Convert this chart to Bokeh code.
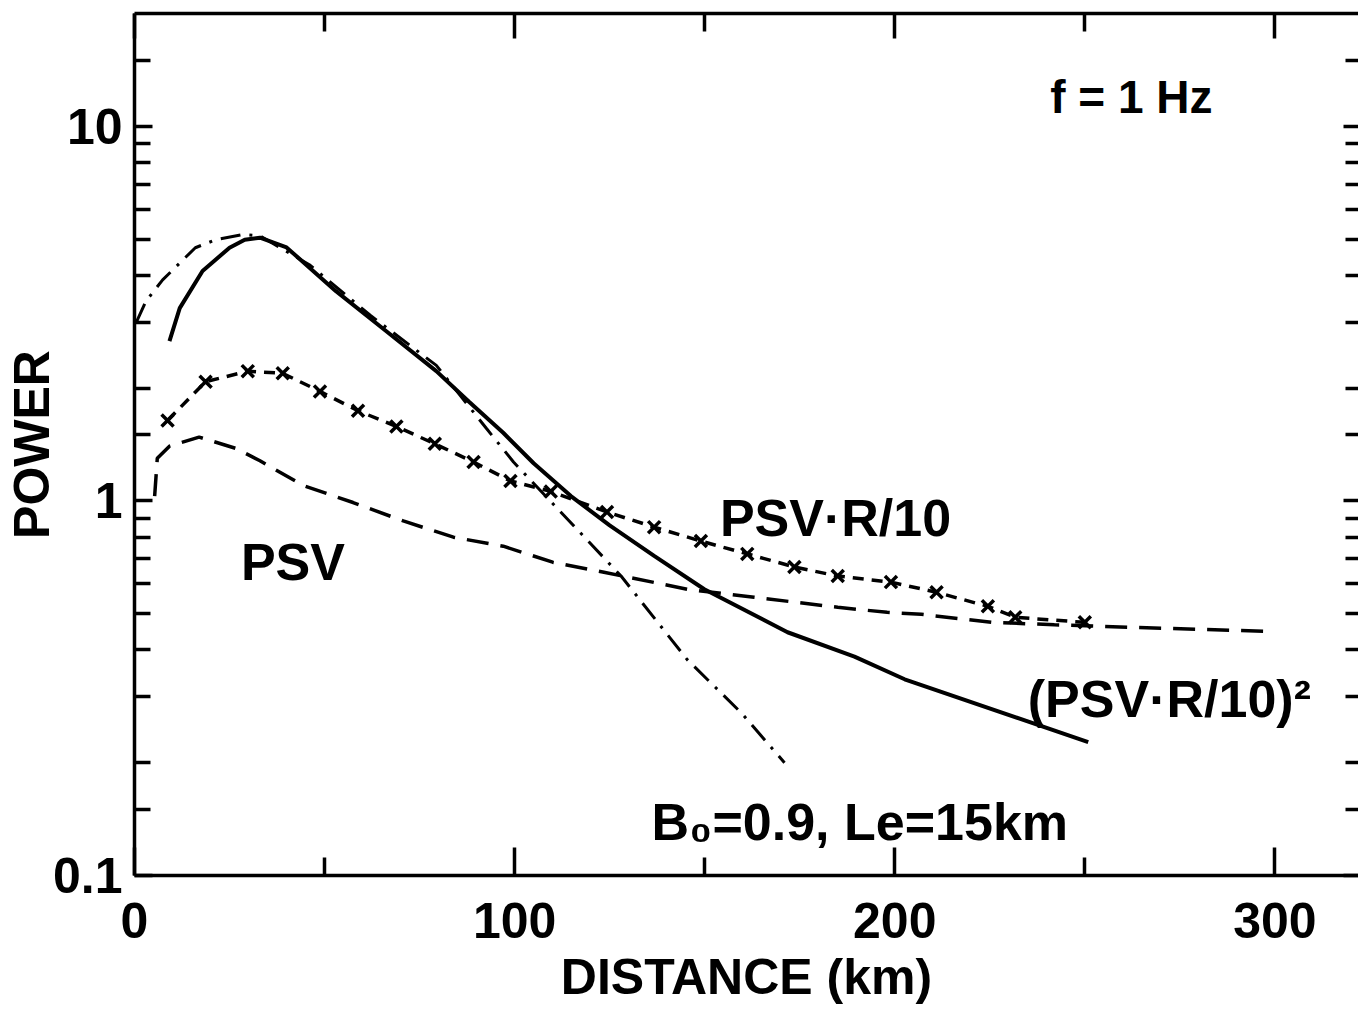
from bokeh.plotting import figure
from bokeh.models import (LinearAxis, LogAxis, FixedTicker, CustomJSTickFormatter,
                          Label, Range1d)
from bokeh.embed import file_html
from bokeh.resources import INLINE

# ---------------- data ----------------
# (PSV*R/10)^2 : solid line
sq_x = [9.2, 11.9, 17.9, 25, 29, 33, 40, 53, 66, 79.4, 88, 97, 105, 114.8, 125, 136.7,
        149.9, 171.8, 189.4, 202.6, 250.9]
sq_y = [2.67, 3.27, 4.11, 4.74, 4.98, 5.04, 4.75, 3.63, 2.85, 2.22, 1.84, 1.52, 1.26,
        1.03, 0.86, 0.713, 0.581, 0.446, 0.384, 0.334, 0.227]

# model B0=0.9, Le=15km : dash-dot line
mod_x = [0.5, 3, 7.4, 16, 21.4, 28.5, 33, 46, 62, 79.4, 92.6, 99.7, 115.6, 128,
         145.4, 159.6, 171]
mod_y = [3.0, 3.41, 3.89, 4.74, 4.98, 5.14, 5.1, 4.27, 3.13, 2.30, 1.56, 1.27, 0.857,
         0.63, 0.377, 0.272, 0.2]

# PSV*R/10 : dashed line with x markers
r_x = [8.7, 18.7, 29.8, 39, 48.8, 58.8, 68.9, 79, 89.2, 98.9, 109.5, 124.3, 136.7,
       149, 161.2, 173.6, 185, 199, 211, 224.5, 231.7, 250]
r_y = [1.64, 2.08, 2.22, 2.19, 1.96, 1.74, 1.58, 1.42, 1.27, 1.13, 1.06, 0.934, 0.851,
       0.781, 0.722, 0.666, 0.63, 0.607, 0.57, 0.523, 0.489, 0.474]

# PSV : dashed line
psv_x = [5.3, 6, 9.2, 17, 26.7, 33, 44.3, 57.5, 70.7, 83.9, 97, 110, 123.5, 145.4,
         163, 185, 198, 207, 225.6, 242, 264, 300]
psv_y = [1.03, 1.30, 1.40, 1.48, 1.38, 1.28, 1.10, 0.99, 0.884, 0.80, 0.757, 0.686,
         0.645, 0.581, 0.553, 0.520, 0.504, 0.498, 0.474, 0.467, 0.459, 0.448]

x_ticks = [0, 100, 200, 300]
x_minor = [50, 150, 250]
y_ticks = [0.1, 1, 10]
y_minor = [0.15, 0.2, 0.3, 0.4, 0.5, 0.6, 0.7, 0.8, 0.9,
           1.5, 2, 3, 4, 5, 6, 7, 8, 9, 15]

x_title = "DISTANCE (km)"
y_title = "POWER"

FONT = "Liberation Sans"

p = figure(width=1358, height=1009, x_range=Range1d(0, 322), y_range=Range1d(0.1, 20),
           y_axis_type="log", output_backend="svg", toolbar_location=None,
           min_border_left=132, min_border_right=0, min_border_top=13,
           min_border_bottom=134)
p.grid.visible = False
p.outline_line_color = None
p.background_fill_color = "white"
p.border_fill_color = "white"

blank = CustomJSTickFormatter(code="return ''")


def style(ax, tin, tmin):
    ax.axis_line_width = 3.5
    ax.axis_line_color = "black"
    ax.major_tick_in = tin
    ax.major_tick_out = 0
    ax.minor_tick_in = tmin
    ax.minor_tick_out = 0
    ax.major_tick_line_width = 3.5
    ax.minor_tick_line_width = 3.5
    ax.major_tick_line_color = "black"
    ax.minor_tick_line_color = "black"
    ax.major_label_text_font = FONT
    ax.major_label_text_font_style = "bold"
    ax.major_label_text_font_size = "50px"
    ax.major_label_text_color = "black"
    ax.axis_label_text_font = FONT
    ax.axis_label_text_font_style = "bold"
    ax.axis_label_text_font_size = "50px"
    ax.axis_label_text_color = "black"


xax = p.xaxis[0]
xax.ticker = FixedTicker(ticks=x_ticks, minor_ticks=x_minor)
style(xax, 28, 18)
xax.axis_label = x_title
xax.major_label_standoff = 27
xax.axis_label_standoff = 8

yax = p.yaxis[0]
yax.ticker = FixedTicker(ticks=y_ticks, minor_ticks=y_minor)
yax.formatter = CustomJSTickFormatter(code="return tick.toString()")
style(yax, 18, 16)
yax.axis_label = y_title
yax.major_label_standoff = 12
yax.axis_label_standoff = -10

top = LinearAxis(ticker=FixedTicker(ticks=x_ticks, minor_ticks=x_minor), formatter=blank)
style(top, 25, 18)
top.major_label_standoff = 0
p.add_layout(top, "above")

right = LogAxis(ticker=FixedTicker(ticks=y_ticks, minor_ticks=y_minor), formatter=blank)
style(right, 15, 13)
right.axis_line_color = None
right.major_label_standoff = 0
p.add_layout(right, "right")

# ---------------- curves ----------------
p.line(sq_x, sq_y, line_color="black", line_width=4)
p.line(mod_x, mod_y, line_color="black", line_width=3, line_dash="20 9 3 9")
p.line(r_x, r_y, line_color="black", line_width=3.5, line_dash="11 8")
p.scatter(r_x, r_y, marker="x", size=17, line_color="black", line_width=3.5)
p.line(psv_x, psv_y, line_color="black", line_width=3.5, line_dash="22 12")

# ---------------- annotations ----------------
def lab(x, y, text, size="52px"):
    p.add_layout(Label(x=x, y=y, text=text, text_font=FONT, text_font_style="bold",
                       text_font_size=size, text_color="black",
                       text_baseline="alphabetic"))


lab(240.9, 12.0, "f = 1 Hz", "46px")
lab(154.0, 0.90, "PSV\u00b7R/10")
lab(28.0, 0.685, "PSV")
lab(235.0, 0.296, "(PSV\u00b7R/10)\u00b2")
lab(136.0, 0.139, "B\u2080=0.9, Le=15km")

open("out.html", "w").write(file_html(p, INLINE))
